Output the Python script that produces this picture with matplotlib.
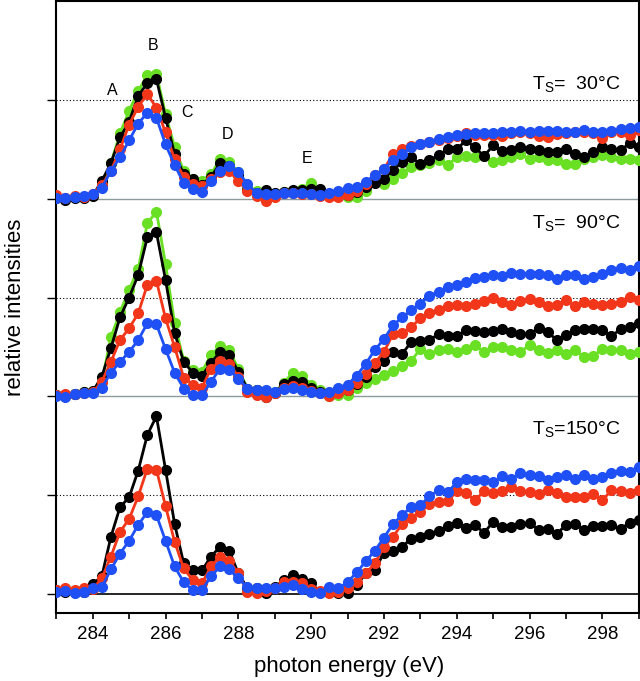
import numpy as np
import matplotlib
matplotlib.use("Agg")
import matplotlib.pyplot as plt

plt.rcParams["font.family"] = ["Liberation Sans", "DejaVu Sans"]
plt.rcParams["mathtext.fontset"] = "custom"
plt.rcParams["mathtext.rm"] = "Liberation Sans"

# photon energy grid (eV), 0.25 eV steps
energy = np.arange(283.0, 299.001, 0.25)

# relative intensities, each panel normalised to its own baseline
# --- Ts = 30 C (top)
t30_green = [0.02, 0.0, 0.02, 0.02, 0.04, 0.15, 0.36, 0.66, 0.89, 1.09, 1.25, 1.26, 0.86, 0.52,
             0.28, 0.20, 0.18, 0.25, 0.40, 0.37, 0.27, 0.12, 0.08, 0.06, 0.05, 0.07, 0.08, 0.10,
             0.16, 0.07, 0.03, 0.03, 0.02, 0.02, 0.08, 0.17, 0.15, 0.20, 0.26, 0.32, 0.34, 0.36,
             0.39, 0.34, 0.42, 0.43, 0.42, 0.43, 0.37, 0.39, 0.42, 0.45, 0.40, 0.42, 0.39, 0.39,
             0.35, 0.35, 0.40, 0.42, 0.44, 0.42, 0.40, 0.40, 0.39]
t30_black = [0.01, -0.01, 0.01, 0.01, 0.03, 0.18, 0.36, 0.62, 0.78, 1.04, 1.17, 1.21, 0.82, 0.45,
             0.25, 0.20, 0.14, 0.22, 0.36, 0.33, 0.24, 0.09, 0.06, 0.09, 0.06, 0.07, 0.09, 0.09,
             0.10, 0.10, 0.05, 0.06, 0.04, 0.07, 0.12, 0.16, 0.20, 0.29, 0.37, 0.42, 0.35, 0.39,
             0.44, 0.50, 0.50, 0.59, 0.52, 0.43, 0.54, 0.48, 0.49, 0.52, 0.50, 0.49, 0.47, 0.47,
             0.50, 0.45, 0.42, 0.47, 0.52, 0.50, 0.49, 0.56, 0.52]
t30_red = [0.04, 0.01, 0.03, 0.02, 0.05, 0.14, 0.28, 0.50, 0.75, 0.93, 1.06, 0.92, 0.67, 0.40,
           0.22, 0.15, 0.13, 0.20, 0.27, 0.28, 0.18, 0.08, 0.03, -0.02, 0.02, 0.06, 0.06, 0.05,
           0.05, 0.03, 0.02, 0.02, 0.04, 0.08, 0.15, 0.24, 0.30, 0.45, 0.50, 0.53, 0.55, 0.57,
           0.59, 0.61, 0.63, 0.66, 0.64, 0.64, 0.64, 0.63, 0.66, 0.68, 0.66, 0.63, 0.62, 0.65,
           0.66, 0.67, 0.68, 0.66, 0.61, 0.67, 0.68, 0.64, 0.70]
t30_blue = [0.01, 0.01, 0.02, 0.03, 0.05, 0.11, 0.28, 0.42, 0.59, 0.76, 0.87, 0.82, 0.55, 0.34,
            0.16, 0.10, 0.07, 0.18, 0.28, 0.33, 0.27, 0.15, 0.06, 0.05, 0.05, 0.06, 0.06, 0.06,
            0.05, 0.04, 0.06, 0.08, 0.11, 0.12, 0.17, 0.24, 0.30, 0.39, 0.45, 0.52, 0.55, 0.57,
            0.60, 0.62, 0.64, 0.65, 0.66, 0.66, 0.66, 0.67, 0.68, 0.69, 0.68, 0.69, 0.69, 0.69,
            0.68, 0.68, 0.70, 0.68, 0.68, 0.69, 0.71, 0.72, 0.73]

# --- Ts = 90 C (middle)
t90_green = [0.01, 0.01, 0.02, 0.04, 0.05, 0.15, 0.60, 0.85, 1.08, 1.29, 1.75, 1.87, 1.34, 0.74,
             0.36, 0.27, 0.25, 0.42, 0.51, 0.47, 0.28, 0.08, 0.06, 0.02, 0.04, 0.14, 0.24, 0.21,
             0.12, 0.06, 0.0, 0.01, 0.01, 0.09, 0.14, 0.18, 0.22, 0.26, 0.31, 0.36, 0.48, 0.43,
             0.47, 0.48, 0.45, 0.48, 0.52, 0.45, 0.50, 0.50, 0.47, 0.45, 0.52, 0.47, 0.44, 0.47,
             0.43, 0.47, 0.40, 0.41, 0.48, 0.47, 0.47, 0.43, 0.45]
t90_black = [0.01, 0.0, 0.02, 0.04, 0.05, 0.20, 0.49, 0.80, 1.00, 1.23, 1.61, 1.66, 1.18, 0.64,
             0.35, 0.24, 0.21, 0.34, 0.45, 0.42, 0.25, 0.08, 0.06, -0.01, 0.03, 0.13, 0.16, 0.15,
             0.09, 0.04, 0.01, 0.04, 0.06, 0.13, 0.20, 0.30, 0.36, 0.45, 0.43, 0.55, 0.56, 0.57,
             0.63, 0.61, 0.61, 0.67, 0.66, 0.65, 0.66, 0.68, 0.65, 0.63, 0.63, 0.69, 0.65, 0.57,
             0.62, 0.67, 0.68, 0.68, 0.67, 0.61, 0.68, 0.70, 0.74]
t90_red = [0.01, 0.02, 0.02, 0.03, 0.04, 0.15, 0.35, 0.57, 0.69, 0.84, 1.13, 1.17, 0.79, 0.50,
           0.19, 0.12, 0.09, 0.28, 0.36, 0.33, 0.20, 0.04, 0.01, -0.01, 0.03, 0.09, 0.11, 0.09,
           0.05, 0.03, 0.0, 0.03, 0.06, 0.14, 0.23, 0.34, 0.45, 0.63, 0.64, 0.70, 0.79, 0.84,
           0.87, 0.91, 0.92, 0.91, 0.94, 0.97, 1.00, 0.96, 0.92, 0.97, 0.99, 0.96, 0.91, 0.92,
           0.98, 0.91, 0.96, 0.93, 0.92, 0.93, 0.96, 1.01, 0.98]
t90_blue = [0.0, -0.01, 0.02, 0.03, 0.03, 0.09, 0.24, 0.35, 0.45, 0.57, 0.74, 0.73, 0.48, 0.24,
            0.08, 0.01, 0.01, 0.15, 0.28, 0.27, 0.18, 0.08, 0.06, 0.06, 0.04, 0.08, 0.09, 0.06,
            0.04, 0.03, 0.04, 0.09, 0.12, 0.21, 0.33, 0.47, 0.58, 0.72, 0.80, 0.87, 0.94, 1.02,
            1.06, 1.11, 1.13, 1.16, 1.20, 1.21, 1.23, 1.22, 1.25, 1.24, 1.24, 1.24, 1.23, 1.19,
            1.23, 1.23, 1.19, 1.21, 1.24, 1.28, 1.30, 1.28, 1.32]

# --- Ts = 150 C (bottom)
t150_black = [0.04, 0.02, 0.02, 0.02, 0.10, 0.18, 0.58, 0.88, 0.98, 1.25, 1.61, 1.80, 1.26, 0.71,
              0.31, 0.24, 0.24, 0.38, 0.48, 0.44, 0.21, 0.06, 0.06, 0.01, 0.07, 0.14, 0.19, 0.15,
              0.11, 0.02, 0.02, 0.01, 0.01, 0.09, 0.21, 0.24, 0.42, 0.44, 0.48, 0.56, 0.58, 0.61,
              0.64, 0.69, 0.72, 0.67, 0.70, 0.62, 0.73, 0.68, 0.68, 0.71, 0.72, 0.65, 0.66, 0.61,
              0.70, 0.71, 0.65, 0.69, 0.69, 0.70, 0.66, 0.72, 0.75]
t150_red = [0.04, 0.06, 0.04, 0.06, 0.05, 0.16, 0.38, 0.63, 0.76, 0.99, 1.27, 1.26, 0.89, 0.53,
            0.26, 0.14, 0.11, 0.28, 0.38, 0.34, 0.21, 0.02, 0.01, 0.03, 0.06, 0.12, 0.12, 0.11,
            0.05, 0.03, 0.01, 0.02, 0.06, 0.12, 0.21, 0.31, 0.48, 0.58, 0.71, 0.77, 0.83, 0.91,
            0.93, 0.94, 1.04, 1.02, 0.95, 1.04, 1.02, 1.04, 1.08, 1.04, 1.03, 1.01, 1.05, 1.02,
            0.98, 0.98, 0.98, 1.01, 0.95, 1.05, 1.04, 1.02, 1.05]
t150_blue = [0.02, 0.03, 0.01, 0.02, 0.06, 0.07, 0.25, 0.41, 0.54, 0.70, 0.83, 0.80, 0.54, 0.28,
             0.12, 0.04, 0.04, 0.18, 0.28, 0.25, 0.16, 0.07, 0.06, 0.06, 0.06, 0.07, 0.09, 0.05,
             0.02, 0.01, 0.07, 0.06, 0.12, 0.22, 0.33, 0.44, 0.57, 0.71, 0.80, 0.88, 0.90, 0.99,
             1.05, 1.03, 1.13, 1.16, 1.15, 1.15, 1.13, 1.19, 1.16, 1.23, 1.20, 1.19, 1.15, 1.18,
             1.21, 1.16, 1.20, 1.16, 1.18, 1.23, 1.25, 1.24, 1.29]

panel_labels = ["T$_\\mathregular{S}$=  30°C", "T$_\\mathregular{S}$=  90°C", "T$_\\mathregular{S}$=150°C"]
panel_label_y = [5.15, 3.75, 1.66]
peak_labels = ["A", "B", "C", "D", "E"]
peak_x = [284.55, 285.67, 286.6, 287.7, 289.9]
peak_y = [5.09, 5.55, 4.87, 4.65, 4.41]

c_green = "#6ae024"
c_black = "#000000"
c_red = "#f2361a"
c_blue = "#1f50f5"

panels = [
    (4.0, [(t30_green, c_green), (t30_black, c_black), (t30_red, c_red), (t30_blue, c_blue)]),
    (2.0, [(t90_green, c_green), (t90_black, c_black), (t90_red, c_red), (t90_blue, c_blue)]),
    (0.0, [(t150_black, c_black), (t150_red, c_red), (t150_blue, c_blue)]),
]

fig = plt.figure(figsize=(6.4, 6.81), dpi=100)
ax = fig.add_axes([0.088, 0.1, 0.91, 0.8985])

for offset, series in panels:
    base_col = "black" if offset == 0 else "#8c9c9c"
    ax.axhline(offset, color=base_col, lw=1.2 if offset == 0 else 1.0, zorder=1)
    ax.axhline(offset + 1, color="black", lw=0.8, ls=(0, (1, 2)), zorder=1)
    for vals, col in series:
        ax.plot(energy, np.array(vals) + offset, "-o", color=col, lw=2.0, ms=7.0,
                mec=col, zorder=3)

for txt, ypos in zip(panel_labels, panel_label_y):
    ax.text(298.5, ypos, txt, ha="right", va="center", fontsize=14)

for lab, px, py in zip(peak_labels, peak_x, peak_y):
    ax.text(px, py, lab, ha="center", va="center", fontsize=11.5)

ax.set_xlim(283, 299)
ax.set_ylim(-0.19, 6.0)
ax.set_xticks(np.arange(284, 299, 2))
ax.set_xticks(np.arange(283, 300, 1), minor=True)
ax.set_yticks([0, 1, 2, 3, 4, 5])
ax.set_yticklabels([])
ax.tick_params(axis="x", which="both", direction="out", length=4.5, width=1.2,
               labelsize=13.5, pad=5)
ax.tick_params(axis="y", direction="out", length=6.5, width=1.0)
for s in ax.spines.values():
    s.set_linewidth(1.5)

ax.set_xlabel("photon energy (eV)", fontsize=16)
ax.set_ylabel("relative intensities", fontsize=16)
ax.xaxis.set_label_coords(0.502, -0.07)
ax.yaxis.set_label_coords(-0.052, 0.5)

fig.savefig("out.png", dpi=100)
